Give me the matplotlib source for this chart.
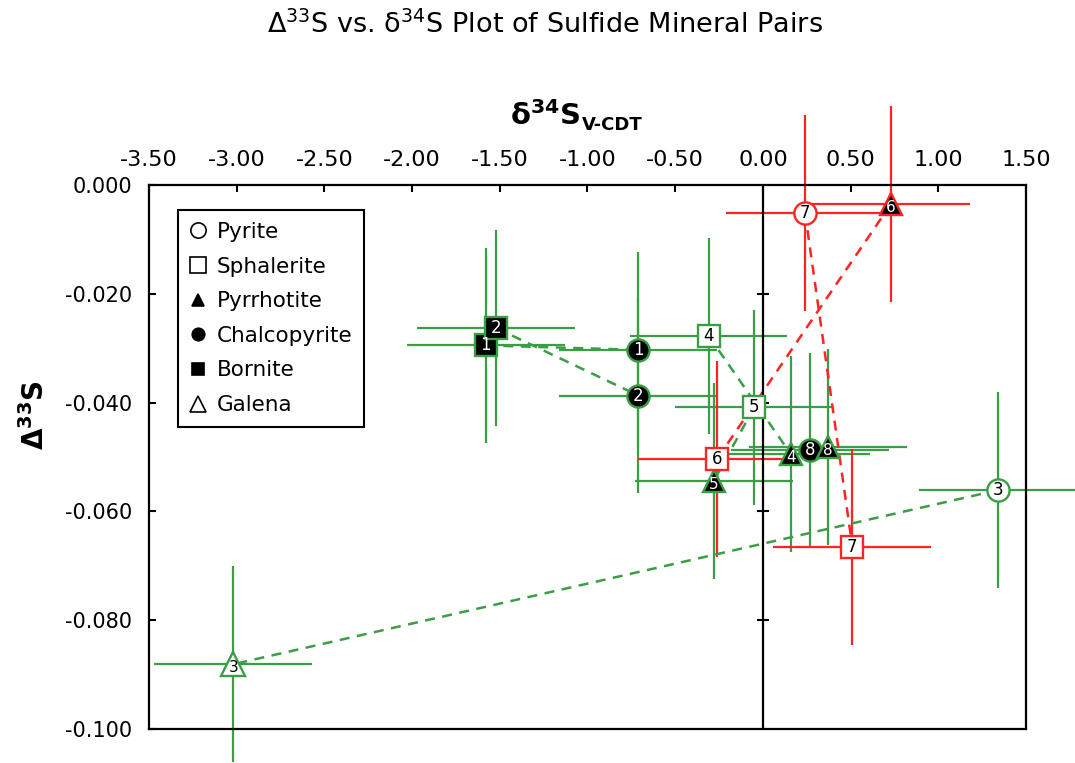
import numpy as np
import matplotlib
matplotlib.use("Agg")
import matplotlib.pyplot as plt
from matplotlib.lines import Line2D

plt.rcParams["font.family"] = ["DejaVu Sans"]
plt.rcParams["mathtext.default"] = "regular"
plt.rcParams["axes.unicode_minus"] = False

# mineral, sample number, d34S, D33S, pair group
MINERALS = ["Bornite", "Bornite", "Chalcopyrite", "Chalcopyrite", "Sphalerite",
            "Sphalerite", "Pyrrhotite", "Pyrrhotite", "Chalcopyrite", "Pyrrhotite",
            "Pyrite", "Galena", "Pyrite", "Pyrrhotite", "Sphalerite", "Sphalerite"]
SAMPLES = [1, 2, 1, 2, 4, 5, 4, 5, 8, 8, 3, 3, 7, 6, 6, 7]
D34S = [-1.58, -1.52, -0.71, -0.71, -0.31, -0.05, 0.16, -0.28, 0.27, 0.37,
        1.34, -3.02, 0.24, 0.73, -0.26, 0.51]
D33S = [-0.0295, -0.0263, -0.0303, -0.0387, -0.0277, -0.0409, -0.0495, -0.0544,
        -0.0488, -0.0481, -0.0561, -0.0881, -0.0051, -0.0035, -0.0503, -0.0665]
D34S_ERR = [0.45] * 16
D33S_ERR = [0.018] * 16
GROUP = ["g"] * 12 + ["r"] * 4

LEGEND_ORDER = ["Pyrite", "Sphalerite", "Pyrrhotite", "Chalcopyrite", "Bornite", "Galena"]
XTICKS = [-3.5, -3.0, -2.5, -2.0, -1.5, -1.0, -0.5, 0.0, 0.5, 1.0, 1.5]
YTICKS = [0.0, -0.02, -0.04, -0.06, -0.08, -0.1]

GREEN = "#3a9e45"
RED = "#ff2424"
COLORS = {"g": GREEN, "r": RED}

# marker shape, filled?, marker size
STYLE = {
    "Pyrite": ("o", False, 16),
    "Sphalerite": ("s", False, 16.5),
    "Pyrrhotite": ("^", True, 16.5),
    "Chalcopyrite": ("o", True, 16),
    "Bornite": ("s", True, 16),
    "Galena": ("^", False, 17),
}

fig = plt.figure(figsize=(10.75, 7.63), dpi=100)
ax = fig.add_axes([149 / 1075, 34 / 763, 877 / 1075, 544 / 763])
ax.set_xlim(-3.5, 1.5)
ax.set_ylim(-0.1, 0.0)

x = np.array(D34S)
y = np.array(D33S)

# error bars, green first then red
for g in ["g", "r"]:
    idx = [i for i, gg in enumerate(GROUP) if gg == g]
    eb = ax.errorbar(x[idx], y[idx], xerr=np.array(D34S_ERR)[idx],
                     yerr=np.array(D33S_ERR)[idx], fmt="none",
                     ecolor=COLORS[g], elinewidth=1.6, capsize=0, zorder=1)
    for coll in eb[2]:
        coll.set_clip_on(False)

# dashed tie lines between minerals of the same sample
for s in sorted(set(SAMPLES)):
    idx = [i for i, ss in enumerate(SAMPLES) if ss == s]
    ax.plot(x[idx], y[idx], ls=(0, (4, 3)), lw=1.8, color=COLORS[GROUP[idx[0]]],
            zorder=2)

# interior axis at d34S = 0
ax.axvline(0, color="black", lw=1.6, zorder=3)
ax.plot([0] * (len(YTICKS) - 2), YTICKS[1:-1], ls="none", marker="_", ms=9,
        mew=1.5, color="black", zorder=3)

for i, m in enumerate(MINERALS):
    marker, filled, ms = STYLE[m]
    col = COLORS[GROUP[i]]
    ax.plot(x[i], y[i], marker=marker, ms=ms, mew=1.7,
            mfc="black" if filled else "white", mec=col, ls="none",
            zorder=4, clip_on=False)
    dy = -2.5 if marker == "^" else 0
    ax.annotate(str(SAMPLES[i]), (x[i], y[i]), xytext=(0, dy),
                textcoords="offset points", ha="center", va="center",
                fontsize=12 if marker != "^" else 11,
                color="white" if filled else "black", zorder=5)

# axes styling
ax.xaxis.tick_top()
ax.set_xticks(XTICKS)
ax.set_xticklabels(["%.2f" % v for v in XTICKS])
ax.set_yticks(YTICKS)
ax.set_yticklabels(["%.3f" % v for v in YTICKS])
ax.tick_params(direction="in", length=5, width=1.5, labelsize=15, colors="black")
ax.tick_params(axis="x", pad=11, labelsize=16)
ax.tick_params(axis="y", pad=12)
for sp in ax.spines.values():
    sp.set_linewidth(1.6)

legend_handles = []
legend_sizes = {"Pyrite": 11, "Sphalerite": 11, "Pyrrhotite": 8,
                "Chalcopyrite": 9, "Bornite": 9, "Galena": 12}
for m in LEGEND_ORDER:
    marker, filled, _ = STYLE[m]
    legend_handles.append(Line2D([], [], marker=marker, ls="none",
                                 ms=legend_sizes[m], mew=1.2,
                                 mfc="black" if filled else "white", mec="black",
                                 label=m))
leg = ax.legend(handles=legend_handles, loc="upper left",
                bbox_to_anchor=(0.033, 0.954), borderaxespad=0,
                fontsize=15.5, frameon=True, fancybox=False, framealpha=1,
                edgecolor="black", handlelength=0.8, handletextpad=0.45,
                labelspacing=0.68, borderpad=0.55)
leg.get_frame().set_linewidth(1.5)
leg.set_zorder(6)

fig.text(0.507, 0.968, "Δ$^{33}$S vs. δ$^{34}$S Plot of Sulfide Mineral Pairs",
         ha="center", va="center", fontsize=19.5)
xl = fig.text(0.507, 0.848, "δ$^{34}$S", ha="center", va="center",
              fontsize=21, fontweight="bold")
ax.annotate("V-CDT", xy=(1.0, 0.02), xycoords=xl, ha="left", va="bottom",
            xytext=(1, -3), textcoords="offset points",
            fontsize=13, fontweight="bold")
fig.text(0.033, 0.456, "Δ$^{33}$S", ha="center", va="center", rotation=90,
         fontsize=20, fontweight="bold")

fig.savefig("out.png", dpi=100)
